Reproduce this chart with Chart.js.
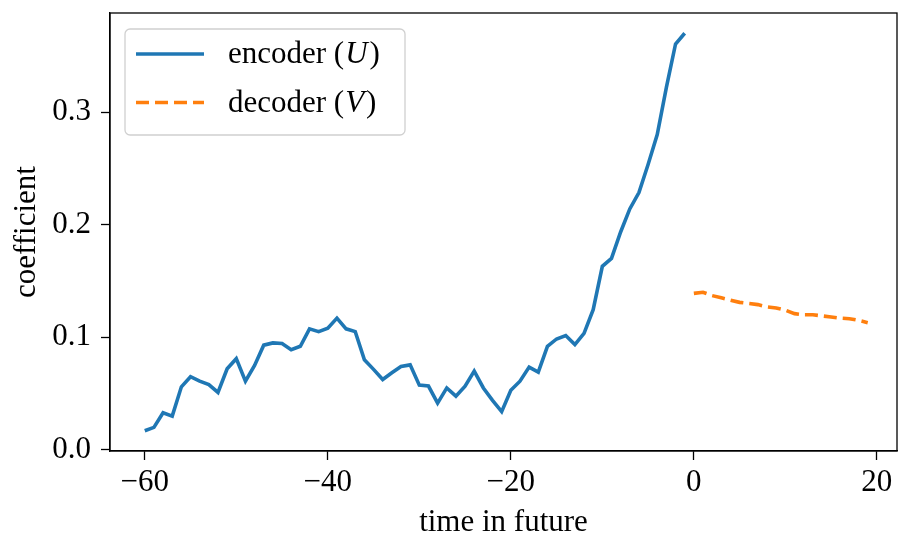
<!DOCTYPE html>
<html>
<head>
<meta charset="utf-8">
<title>encoder / decoder coefficients</title>
<script src="https://cdn.jsdelivr.net/npm/chart.js@4.4.0/dist/chart.umd.min.js"></script>
<style>
    html, body { margin: 0; padding: 0; background: #fff; }
    #wrap { width: 898px; height: 538px; position: relative; }
</style>
</head>
<body>
<div id="wrap"><canvas id="chart"></canvas></div>
<script>
// Data
const encoderTimes = [-60, -59, -58, -57, -56, -55, -54, -53, -52, -51,
    -50, -49, -48, -47, -46, -45, -44, -43, -42, -41,
    -40, -39, -38, -37, -36, -35, -34, -33, -32, -31,
    -30, -29, -28, -27, -26, -25, -24, -23, -22, -21,
    -20, -19, -18, -17, -16, -15, -14, -13, -12, -11,
    -10, -9, -8, -7, -6, -5, -4, -3, -2, -1];
const encoderCoef = [0.017, 0.020, 0.033, 0.030, 0.056, 0.065, 0.061, 0.058, 0.051, 0.072,
    0.081, 0.061, 0.075, 0.093, 0.095, 0.0945, 0.089, 0.092, 0.1075, 0.105,
    0.108, 0.117, 0.1075, 0.105, 0.080, 0.0715, 0.0625, 0.0685, 0.074, 0.0755,
    0.0575, 0.0567, 0.0415, 0.055, 0.0477, 0.0565, 0.070, 0.055, 0.044, 0.034,
    0.053, 0.061, 0.0735, 0.069, 0.092, 0.0985, 0.1015, 0.0935, 0.1035, 0.1245,
    0.163, 0.170, 0.1935, 0.214, 0.2285, 0.2535, 0.280, 0.322, 0.3605, 0.370];

const decoderTimes = [0, 1, 2, 3, 4, 5, 6, 7, 8, 9,
    10, 11, 12, 13, 14, 15, 16, 17, 18, 19];
const decoderCoef = [0.139, 0.140, 0.137, 0.135, 0.133, 0.131, 0.130, 0.129, 0.127, 0.126,
    0.124, 0.121, 0.120, 0.120, 0.119, 0.118, 0.117, 0.1165, 0.115, 0.113];

const xTicks = [-60, -40, -20, 0, 20];
const yTicks = [0.0, 0.1, 0.2, 0.3];

const BLUE = '#1f77b4';
const ORANGE = '#ff7f0e';
const FONT = "'Liberation Serif', 'Times New Roman', serif";
const FSIZE = 31;
const LW = 3.6;
const DASH = [13, 6];

function toPoints(xs, ys) {
    return xs.map((x, i) => ({ x: x, y: ys[i] }));
}

// Top and right spines
const framePlugin = {
    id: 'frame',
    afterDraw(chart) {
        const a = chart.chartArea;
        const ctx = chart.ctx;
        ctx.save();
        ctx.strokeStyle = '#000';
        ctx.lineWidth = 1.3;
        ctx.strokeRect(a.left, a.top, a.right - a.left, a.bottom - a.top);
        ctx.restore();
    }
};

// Legend with italic U / V, drawn like matplotlib's framed legend
const legendPlugin = {
    id: 'mplLegend',
    afterDraw(chart) {
        const a = chart.chartArea;
        const ctx = chart.ctx;
        const x0 = a.left + 15, y0 = a.top + 16, w = 280, h = 106, r = 5;
        ctx.save();
        ctx.beginPath();
        ctx.roundRect(x0, y0, w, h, r);
        ctx.fillStyle = 'rgba(255,255,255,0.8)';
        ctx.fill();
        ctx.strokeStyle = '#d0d0d0';
        ctx.lineWidth = 1.3;
        ctx.stroke();

        const rows = [
            { name: 'encoder (', sym: 'U', color: BLUE, dash: [] },
            { name: 'decoder (', sym: 'V', color: ORANGE, dash: DASH }
        ];
        rows.forEach((row, i) => {
            const cy = y0 + 25 + i * 48.5;
            ctx.beginPath();
            ctx.setLineDash(row.dash);
            ctx.strokeStyle = row.color;
            ctx.lineWidth = LW;
            ctx.moveTo(x0 + 11, cy);
            ctx.lineTo(x0 + 79, cy);
            ctx.stroke();
            ctx.setLineDash([]);

            let tx = x0 + 103;
            ctx.fillStyle = '#000';
            ctx.textBaseline = 'middle';
            ctx.font = FSIZE + 'px ' + FONT;
            ctx.fillText(row.name, tx, cy + 1);
            tx += ctx.measureText(row.name).width + 1;
            ctx.font = 'italic ' + FSIZE + 'px ' + FONT;
            ctx.fillText(row.sym, tx, cy + 1);
            tx += ctx.measureText(row.sym).width + 2;
            ctx.font = FSIZE + 'px ' + FONT;
            ctx.fillText(')', tx, cy + 1);
        });
        ctx.restore();
    }
};

const ctx = document.getElementById('chart').getContext('2d');
const chart = new Chart(ctx, {
    type: 'line',
    data: {
        datasets: [
            {
                label: 'encoder (U)',
                data: toPoints(encoderTimes, encoderCoef),
                borderColor: BLUE,
                borderWidth: LW,
                pointRadius: 0,
                tension: 0,
                fill: false
            },
            {
                label: 'decoder (V)',
                data: toPoints(decoderTimes, decoderCoef),
                borderColor: ORANGE,
                borderWidth: LW,
                borderDash: DASH,
                pointRadius: 0,
                tension: 0,
                fill: false
            }
        ]
    },
    options: {
        responsive: true,
        maintainAspectRatio: false,
        animation: false,
        events: [],
        layout: {
            padding: { top: 13, right: 1, left: 0, bottom: 0 }
        },
        plugins: {
            legend: { display: false },
            tooltip: { enabled: false }
        },
        scales: {
            x: {
                type: 'linear',
                min: -63.8,
                max: 22.2,
                afterBuildTicks: (scale) => {
                    scale.ticks = xTicks.map(v => ({ value: v }));
                },
                afterFit: (scale) => {
                    scale.height = 87;
                    scale.paddingLeft = 0;
                    scale.paddingRight = 0;
                },
                ticks: {
                    color: '#000',
                    font: { family: FONT, size: FSIZE },
                    padding: 4,
                    maxRotation: 0,
                    callback: (v) => String(v).replace('-', '\u2212')
                },
                grid: {
                    display: true,
                    drawOnChartArea: false,
                    drawTicks: true,
                    tickLength: 9,
                    tickWidth: 1.3,
                    tickColor: '#000'
                },
                border: { display: true, color: '#000', width: 1.3 },
                title: {
                    display: true,
                    text: 'time in future',
                    color: '#000',
                    font: { family: FONT, size: FSIZE },
                    padding: { top: 0, bottom: -3 }
                }
            },
            y: {
                type: 'linear',
                min: -0.001,
                max: 0.388,
                afterBuildTicks: (scale) => {
                    scale.ticks = yTicks.map(v => ({ value: v }));
                },
                afterFit: (scale) => {
                    scale.width = 110;
                    scale.paddingTop = 0;
                    scale.paddingBottom = 0;
                },
                ticks: {
                    color: '#000',
                    font: { family: FONT, size: FSIZE },
                    padding: 10,
                    callback: (v) => v.toFixed(1)
                },
                grid: {
                    display: true,
                    drawOnChartArea: false,
                    drawTicks: true,
                    tickLength: 9,
                    tickWidth: 1.3,
                    tickColor: '#000'
                },
                border: { display: true, color: '#000', width: 1.3 },
                title: {
                    display: true,
                    text: 'coefficient',
                    color: '#000',
                    font: { family: FONT, size: FSIZE },
                    padding: { top: 8, bottom: 0 }
                }
            }
        }
    },
    plugins: [framePlugin, legendPlugin]
});
</script>
</body>
</html>
